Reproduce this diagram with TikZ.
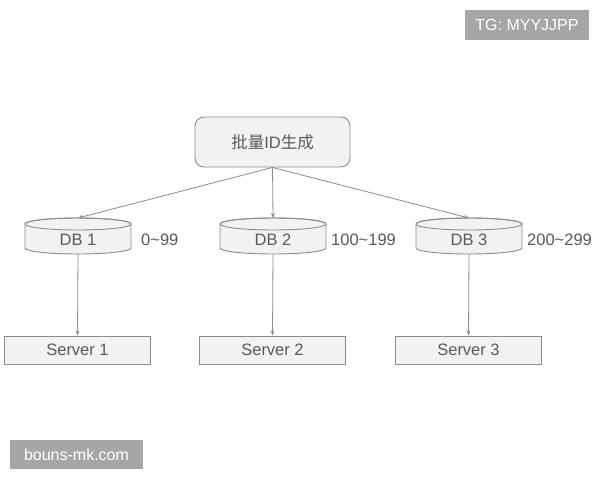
\documentclass[tikz,border=0pt]{standalone}
\usepackage{fontspec}
\setmainfont{Liberation Sans}
\newfontfamily\cjk{Noto Sans CJK SC}
\usetikzlibrary{arrows.meta}
\definecolor{boxfill}{HTML}{F2F2F2}
\definecolor{boxline}{HTML}{8C8C8C}
\definecolor{txt}{HTML}{595959}
\definecolor{wmfill}{HTML}{A6A6A6}
\newcommand{\dbcyl}[3]{%
  \path[fill=boxfill,draw=boxline,line width=0.9pt] (#2-53,256) -- (#2-53,232)
    arc[start angle=180,end angle=360,x radius=53pt,y radius=6pt] -- (#2+53,256)
    arc[start angle=0,end angle=180,x radius=53pt,y radius=6pt] -- cycle;
  \draw[boxline,line width=0.9pt] (#2,256) ellipse[x radius=53pt,y radius=6pt];
  \node[lbl] (#1) at (#2,240) {#3};
  \coordinate (#1top) at (#2,262);
  \coordinate (#1bot) at (#2,226);
}
\begin{document}
\begin{tikzpicture}[x=1pt,y=1pt,
  lbl/.style={text=txt,font=\fontsize{16.5}{19}\selectfont,inner sep=0pt},
  server/.style={draw=boxline,fill=boxfill,line width=0.9pt,minimum width=146pt,minimum height=28pt,inner sep=0pt,text=txt,font=\fontsize{16.5}{19}\selectfont},
  topbox/.style={draw=boxline,fill=boxfill,line width=0.9pt,rounded corners=9pt,minimum width=155pt,minimum height=50pt,inner sep=0pt,text=txt,font=\fontsize{16.5}{19}\selectfont},
  conn/.style={draw=boxline,line width=0.8pt,-{Stealth[length=5pt,width=4pt]}},
  wm/.style={fill=wmfill,text=white,inner sep=0pt,font=\fontsize{16}{19}\selectfont}]
\useasboundingbox[fill=white] (0,0) rectangle (600,480);
\node[topbox] (gen) at (272.5,338) {{\cjk 批量}ID{\cjk 生成}};
\dbcyl{db1}{78}{DB 1}
\dbcyl{db2}{273}{DB 2}
\dbcyl{db3}{469}{DB 3}
\node[lbl,anchor=west] (r1) at (141,240) {0\textasciitilde 99};
\node[lbl,anchor=west] (r2) at (331,240) {100\textasciitilde 199};
\node[lbl,anchor=west] (r3) at (527,240) {200\textasciitilde 299};
\node[server] (s1) at (77.5,130) {Server 1};
\node[server] (s2) at (272.5,130) {Server 2};
\node[server] (s3) at (468.5,130) {Server 3};
\draw[conn] (gen.south) -- (db1top);
\draw[conn] (gen.south) -- (db2top);
\draw[conn] (gen.south) -- (db3top);
\draw[conn] (db1bot) -- (s1.north);
\draw[conn] (db2bot) -- (s2.north);
\draw[conn] (db3bot) -- (s3.north);
\node[wm,minimum width=124pt,minimum height=30pt] (tg) at (527,455) {TG: MYYJJPP};
\node[wm,minimum width=133pt,minimum height=29pt] (bm) at (76.5,25.5) {bouns-mk.com};
\end{tikzpicture}
\end{document}
